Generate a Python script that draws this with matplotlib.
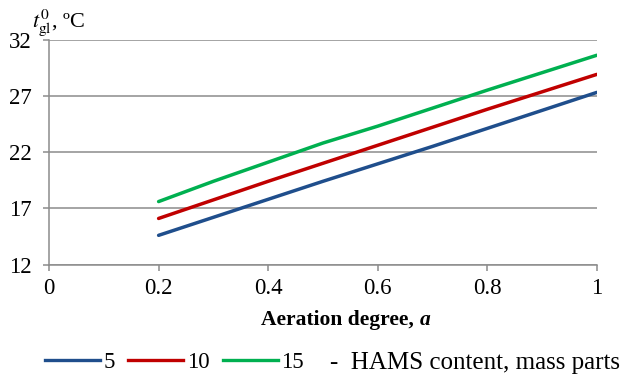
import matplotlib
matplotlib.use("Agg")
import matplotlib.pyplot as plt
from matplotlib.lines import Line2D

plt.rcParams['font.family'] = ['Liberation Serif', 'DejaVu Serif']
plt.rcParams['mathtext.fontset'] = 'stix'

aeration = [0.2, 0.3, 0.4, 0.5, 0.6, 0.7, 0.8, 0.9, 1.0]
t_5 = [14.6, 16.2, 17.8, 19.4, 20.95, 22.5, 24.1, 25.7, 27.3]
t_10 = [16.1, 17.75, 19.4, 21.0, 22.6, 24.2, 25.8, 27.35, 28.9]
t_15 = [17.6, 19.4, 21.1, 22.8, 24.3, 25.9, 27.5, 29.05, 30.6]
series_labels = ['5', '10', '15']
colors = ['#1F4E8C', '#C00000', '#00B050']
x_ticks = [0, 0.2, 0.4, 0.6, 0.8, 1]
x_ticklabels = ['0', '0.2', '0.4', '0.6', '0.8', '1']
y_ticks = [12, 17, 22, 27, 32]

fig = plt.figure(figsize=(6.21, 3.78), dpi=100)
ax = fig.add_axes([0.079, 0.300, 0.882, 0.5955])

for ys, c, lab in zip([t_5, t_10, t_15], colors, series_labels):
    ax.plot(aeration, ys, color=c, lw=2.5, solid_capstyle='round', label=lab)

ax.set_xlim(0, 1)
ax.set_ylim(12, 32)
ax.set_xticks(x_ticks)
ax.set_xticklabels(x_ticklabels)
ax.set_yticks(y_ticks)
ax.grid(axis='y', color='#8c8c8c', lw=1.1)
ax.set_axisbelow(True)
for s in ['top', 'right']:
    ax.spines[s].set_visible(False)
for s in ['left', 'bottom']:
    ax.spines[s].set_color('#8c8c8c')
    ax.spines[s].set_linewidth(1.1)
ax.tick_params(axis='both', colors='#8c8c8c', length=4.5, width=1.1, labelsize=16.5,
               labelcolor='black')
ax.tick_params(axis='x', pad=5.5)
ax.tick_params(axis='y', pad=8)

# y-axis label at top-left
fig.text(0.051, 0.929, r'$t^{0}_{\mathrm{gl}}$, ºC', fontsize=16, ha='left', va='baseline')

# x-axis label: bold text + bold italic 'a'
fig.canvas.draw()
r = fig.canvas.get_renderer()
t1 = fig.text(0, 0.140, 'Aeration degree, ', fontsize=15.5, fontweight='bold', ha='left', va='baseline')
t2 = fig.text(0, 0.140, 'a', fontsize=15.5, fontweight='bold', style='italic', ha='left', va='baseline')
w1 = t1.get_window_extent(r).width
w2 = t2.get_window_extent(r).width
cx = 0.557 * fig.bbox.width
x0 = cx - (w1 + w2) / 2
t1.set_x(x0 / fig.bbox.width)
t2.set_x((x0 + w1) / fig.bbox.width)

handles = [Line2D([], [], color=c, lw=2.4) for c in colors]
leg = fig.legend(handles, series_labels, loc='center left', bbox_to_anchor=(0.072, 0.040),
                 ncol=3, frameon=False, fontsize=16.5, handlelength=2.4, handletextpad=0.15,
                 columnspacing=0.6, borderaxespad=0, borderpad=0)
fig.text(0.531, 0.040, '-  HAMS content, mass parts', fontsize=18, ha='left', va='center')

fig.savefig('out.png', dpi=100)
